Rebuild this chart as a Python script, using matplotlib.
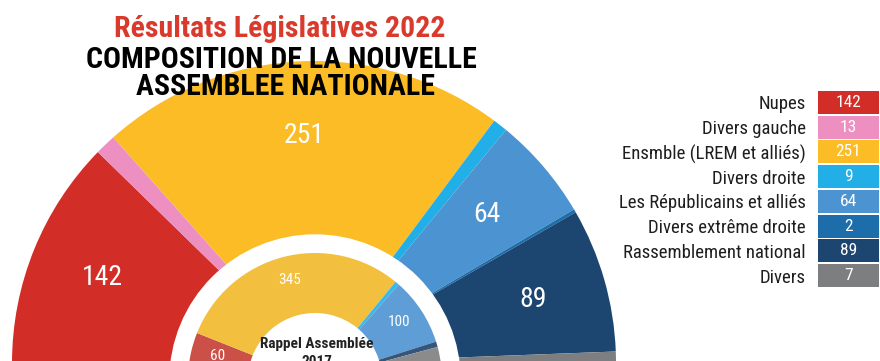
import numpy as np
import matplotlib
matplotlib.use("Agg")
import matplotlib.pyplot as plt

# Données 2022 (grand hémicycle)
partis = ["Nupes", "Divers gauche", "Ensmble (LREM et alliés)", "Divers droite",
          "Les Républicains et alliés", "Divers extrême droite",
          "Rassemblement national", "Divers"]
sieges_2022 = [142, 13, 251, 9, 64, 2, 89, 7]
couleurs_2022 = ["#D22E27", "#EE8FC2", "#FBBC26", "#22AEE6",
                 "#4C93D2", "#1D6DAB", "#1C4670", "#7D7E80"]

# Rappel 2017 (petit hémicycle)
sieges_2017 = [60, 345, 6, 100, 8, 58]
couleurs_2017 = ["#CB5148", "#F2C03E", "#3BB8E8", "#5E9DD6", "#35557A", "#8B8B8C"]
etiquettes_2017 = ["60", "345", "", "100", "", ""]

fonte = ["Roboto Condensed", "Roboto", "DejaVu Sans"]
H = 361

fig = plt.figure(figsize=(8.8, 3.61), dpi=100)
ax = fig.add_axes([0, 0, 1, 1])

# hémicycle 2022 : demi-camembert (la moitié basse est invisible)
c1 = (314, H - 363)
w1, _ = ax.pie(sieges_2022 + [sum(sieges_2022)], colors=couleurs_2022 + ["white"],
               radius=302, center=c1, startangle=180, counterclock=False,
               wedgeprops=dict(linewidth=0, zorder=1))
w1[-1].set_visible(False)
for w, v in zip(w1, sieges_2022):
    if v >= 50:
        a = np.deg2rad((w.theta1 + w.theta2) / 2)
        ax.text(c1[0] + 228 * np.cos(a), c1[1] + 228 * np.sin(a), str(v),
                color="white", fontsize=20, ha="center",
                va="center", family=fonte, zorder=5)

# bord blanc autour du rappel 2017
c2 = (315, H - 380)
ax.add_patch(plt.Circle(c2, 145, color="white", zorder=2))

w2, _ = ax.pie(sieges_2017 + [sum(sieges_2017)], colors=couleurs_2017 + ["white"],
               radius=127, center=c2, startangle=177, counterclock=False,
               wedgeprops=dict(width=60, linewidth=0, zorder=3))
w2[-1].set_visible(False)
for w, t in zip(w2, etiquettes_2017):
    if t:
        a = np.deg2rad((w.theta1 + w.theta2) / 2)
        ax.text(c2[0] + 100 * np.cos(a), c2[1] + 100 * np.sin(a) + 3, t,
                color="white", fontsize=11, ha="center", va="center",
                family=fonte, zorder=5)

ax.text(317, H - 344, "Rappel Assemblée", fontsize=11, fontweight="bold",
        color="#222222", ha="center", va="center", family=fonte, zorder=5)
ax.text(317, H - 362, "2017", fontsize=11, fontweight="bold",
        color="#222222", ha="center", va="center", family=fonte, zorder=5)

# titres
ax.text(280, H - 37, "Résultats Législatives 2022", color="#D93A2B", fontsize=21.5,
        fontweight="bold", ha="center", va="baseline", family=fonte, zorder=6)
ax.text(281, H - 68, "COMPOSITION DE LA NOUVELLE", color="black", fontsize=21.5,
        fontweight="heavy", ha="center", va="baseline", family=fonte, zorder=6)
ax.text(285, H - 95, "ASSEMBLEE NATIONALE", color="black", fontsize=21.5,
        fontweight="heavy", ha="center", va="baseline", family=fonte, zorder=6)

ax.set_xlim(0, 880)
ax.set_ylim(0, H)
ax.set_aspect("equal")
ax.axis("off")

# légende sous forme de tableau
ax2 = fig.add_axes([818 / 880, (H - 288) / H, 61 / 880, 198 / H])
y = np.arange(len(partis))
ax2.barh(y, [1] * len(partis), height=0.93, color=couleurs_2022)
for i, v in enumerate(sieges_2022):
    ax2.text(0.5, i, str(v), color="white", fontsize=12.5, ha="center",
             va="center", family=fonte)
ax2.set_xlim(0, 1)
ax2.set_ylim(len(partis) - 0.5, -0.5)
ax2.set_yticks(y)
ax2.set_yticklabels(partis, fontsize=13.5, color="#1E1E1E", family=fonte)
ax2.tick_params(axis="y", length=0, pad=9)
ax2.set_xticks([])
for s in ax2.spines.values():
    s.set_visible(False)

fig.savefig("out.png", dpi=100)
